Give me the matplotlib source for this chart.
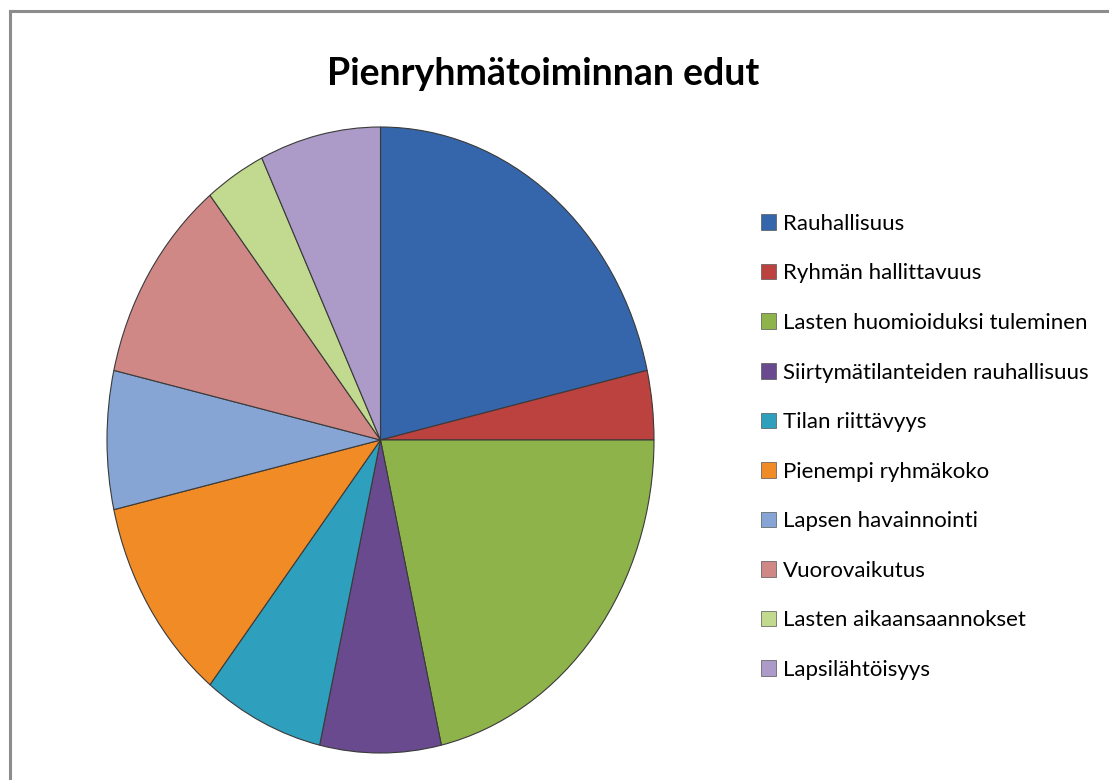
import matplotlib.pyplot as plt
from matplotlib.patches import Patch
from matplotlib.lines import Line2D

# Data
labels = ["Rauhallisuus", "Ryhmän hallittavuus", "Lasten huomioiduksi tuleminen",
          "Siirtymätilanteiden rauhallisuus", "Tilan riittävyys", "Pienempi ryhmäkoko",
          "Lapsen havainnointi", "Vuorovaikutus", "Lasten aikaansaannokset", "Lapsilähtöisyys"]
counts = [6, 1, 6, 2, 2, 3, 2, 3, 1, 2]
colors = ["#3566ab", "#bb423f", "#8db34a", "#6a4a8f", "#2f9fbe",
          "#f08b26", "#86a5d4", "#d08887", "#c2da8f", "#ac9bc8"]
title = "Pienryhmätoiminnan edut"

W, H = 1109, 780
fig = plt.figure(figsize=(W / 100, H / 100), dpi=100)
fig.patch.set_facecolor("white")

# frame (only left and top edge visible)
fig.add_artist(Line2D([10 / W, 10 / W], [0, 1 - 11 / H], color="#8c8c8c", lw=2.2,
                      transform=fig.transFigure))
fig.add_artist(Line2D([10 / W, 1], [1 - 11 / H, 1 - 11 / H], color="#8c8c8c", lw=2.2,
                      transform=fig.transFigure))

# pie, stretched to an ellipse like the reference
ax = fig.add_axes([107 / W, (H - 753) / H, 547 / W, 626 / H])
wedges, _ = ax.pie(counts, colors=colors, startangle=90, counterclock=False,
                   wedgeprops=dict(edgecolor="#3a3a3a", linewidth=0.8))
ax.set_aspect("auto")
ax.set_xlim(-1, 1)
ax.set_ylim(-1, 1)
ax.axis("off")

fig.text(543 / W, 1 - 74 / H, title, ha="center", va="center",
         fontsize=27, fontweight="bold", family="Lato", color="black")

handles = [Patch(facecolor=c, edgecolor="#555555", linewidth=0.5) for c in colors]
leg = fig.legend(handles, labels, loc="upper left", bbox_to_anchor=(752 / W, 1 - 205 / H),
                 frameon=False, prop=dict(family="Lato", size=16),
                 handlelength=0.7, handleheight=0.7, handletextpad=0.3,
                 labelspacing=1.33, borderaxespad=0)

fig.savefig("out.png", dpi=100)
